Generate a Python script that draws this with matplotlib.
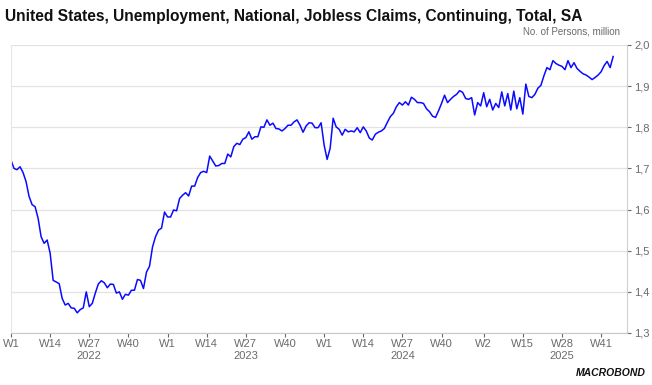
import matplotlib
matplotlib.use("Agg")
import matplotlib.pyplot as plt
from matplotlib.ticker import FuncFormatter

plt.rcParams['font.family'] = ['Liberation Sans', 'DejaVu Sans']

# weekly continuing claims, million persons, starting 2022 W1
claims = [
    1.720, 1.700, 1.697, 1.704, 1.690, 1.668, 1.632, 1.612, 1.607, 1.579, 1.534, 1.518, 1.526,
    1.494, 1.428, 1.424, 1.420, 1.384, 1.368, 1.372, 1.361, 1.360, 1.349, 1.357, 1.361, 1.400,
    1.364, 1.372, 1.397, 1.419, 1.427, 1.422, 1.410, 1.419, 1.418, 1.397, 1.400, 1.382, 1.394,
    1.392, 1.404, 1.404, 1.430, 1.428, 1.408, 1.448, 1.462, 1.509, 1.534, 1.550, 1.555, 1.594,
    1.582, 1.582, 1.599, 1.597, 1.627, 1.635, 1.641, 1.633, 1.657, 1.657, 1.678, 1.690, 1.693,
    1.690, 1.730, 1.718, 1.706, 1.707, 1.712, 1.712, 1.735, 1.728, 1.753, 1.761, 1.758, 1.771,
    1.775, 1.789, 1.771, 1.777, 1.777, 1.801, 1.800, 1.818, 1.805, 1.810, 1.797, 1.796, 1.791,
    1.797, 1.805, 1.805, 1.813, 1.818, 1.805, 1.788, 1.803, 1.811, 1.810, 1.799, 1.799, 1.811,
    1.757, 1.722, 1.749, 1.822, 1.801, 1.795, 1.781, 1.795, 1.789, 1.791, 1.789, 1.799, 1.787,
    1.801, 1.791, 1.774, 1.769, 1.783, 1.788, 1.791, 1.797, 1.812, 1.826, 1.834, 1.850, 1.860,
    1.854, 1.862, 1.854, 1.873, 1.868, 1.860, 1.860, 1.858, 1.845, 1.838, 1.827, 1.824, 1.840,
    1.858, 1.878, 1.860, 1.868, 1.875, 1.880, 1.889, 1.885, 1.870, 1.868, 1.872, 1.830, 1.860,
    1.852, 1.884, 1.850, 1.868, 1.842, 1.858, 1.848, 1.886, 1.852, 1.882, 1.842, 1.888, 1.845,
    1.872, 1.832, 1.905, 1.875, 1.872, 1.880, 1.895, 1.902, 1.925, 1.945, 1.940, 1.962, 1.955,
    1.951, 1.948, 1.940, 1.962, 1.945, 1.957, 1.943, 1.936, 1.930, 1.927, 1.922, 1.916, 1.921,
    1.927, 1.935, 1.950, 1.960, 1.945, 1.972,
]

week_ticks = [0, 13, 26, 39, 52, 65, 78, 91, 104, 117, 130, 143, 157, 170, 183, 196]
week_labels = ["W1", "W14", "W27", "W40", "W1", "W14", "W27", "W40",
               "W1", "W14", "W27", "W40", "W2", "W15", "W28", "W41"]
year_pos = [26, 78, 130, 183]
year_labels = ["2022", "2023", "2024", "2025"]

fig = plt.figure(figsize=(6.52, 3.85), dpi=100)
ax = fig.add_axes([11 / 652, 1 - 333 / 385, 616 / 652, 288 / 385])

ax.plot(range(len(claims)), claims, color="#0a0aff", lw=1.1, solid_joinstyle="round")

ax.set_xlim(0, 204.6)
ax.set_ylim(1.3, 2.0)
ax.set_yticks([1.3, 1.4, 1.5, 1.6, 1.7, 1.8, 1.9, 2.0])
ax.yaxis.set_major_formatter(FuncFormatter(lambda v, p: f"{v:.1f}".replace(".", ",")))
ax.yaxis.tick_right()
ax.grid(axis="y", color="#e3e3e3", lw=0.9)
ax.set_axisbelow(True)

ax.set_xticks(week_ticks)
ax.set_xticklabels(week_labels)
for p, lab in zip(year_pos, year_labels):
    ax.text(p, -0.062, lab, transform=ax.get_xaxis_transform(), ha="center", va="top",
            fontsize=8, color="#6a6a6a")

ax.spines["top"].set_visible(False)
ax.spines["left"].set_color("#e6e6e6")
ax.spines["right"].set_color("#d0d0d0")
ax.spines["bottom"].set_color("#c8c8c8")
ax.tick_params(axis="both", colors="#6a6a6a", labelsize=8, length=3, width=0.8)
ax.tick_params(axis="x", pad=1)
ax.tick_params(axis="y", pad=2)
ax.tick_params(axis="y", which="both", left=False)
for t in ax.get_xticklines() + ax.get_yticklines():
    t.set_color("#c0c0c0")

fig.text(5 / 652, 1 - 17 / 385, "United States, Unemployment, National, Jobless Claims, Continuing, Total, SA",
         fontsize=11.2, fontweight="bold", va="center", ha="left", color="#111111")
fig.text(620 / 652, 1 - 31 / 385, "No. of Persons, million", fontsize=7, color="#6a6a6a",
         ha="right", va="center")
fig.text(646 / 652, 1 - 373 / 385, "MACROBOND", fontsize=7.5, fontweight="bold", style="italic",
         ha="right", va="center", color="#111111")

fig.savefig("out.png", dpi=100)
